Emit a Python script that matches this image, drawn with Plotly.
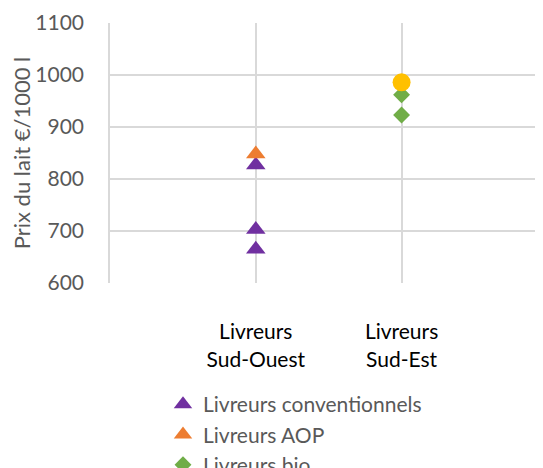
import plotly.graph_objects as go

categories = ["Livreurs<br>Sud-Ouest", "Livreurs<br>Sud-Est"]
cat_pos = [1, 2]

conv_x = [1, 1, 1]
conv_y = [827, 703, 665]
aop_x = [1]
aop_y = [848]
bio_x = [2, 2]
bio_y = [962, 923]
moy_x = [2]
moy_y = [986]

font = "Lato, Open Sans, sans-serif"
grid = "#d9d9d9"
fs = 21

fig = go.Figure()
fig.add_trace(go.Scatter(x=conv_x, y=conv_y, mode="markers", name="Livreurs conventionnels",
                         legendgroup="a",
                         marker=dict(symbol="triangle-up", size=17, color="#7030A0")))
fig.add_trace(go.Scatter(x=aop_x, y=aop_y, mode="markers", name="Livreurs AOP",
                         legendgroup="b",
                         marker=dict(symbol="triangle-up", size=17, color="#ED7D31")))
fig.add_trace(go.Scatter(x=bio_x, y=bio_y, mode="markers", name="Livreurs bio",
                         legendgroup="c",
                         marker=dict(symbol="diamond", size=13, color="#70AD47")))
fig.add_trace(go.Scatter(x=moy_x, y=moy_y, mode="markers", name="Moyenne", showlegend=False,
                         marker=dict(symbol="circle", size=18, color="#FFC000")))

W, H = 535, 460
L, T, B = 102, 15, 185
plot_h = H - T - B
plot_w = W - L
off = 8  # page body margin

fig.update_layout(
    width=W, height=H,
    margin=dict(l=L, r=0, t=T, b=B, autoexpand=False),
    plot_bgcolor="white", paper_bgcolor="white",
    font=dict(family=font, size=fs, color="#595959"),
    showlegend=True,
    legend=dict(x=(163 - off - L) / plot_w, y=-(384 - off - T - plot_h) / plot_h,
                xanchor="left", yanchor="top", font=dict(size=fs, color="#595959"),
                bgcolor="rgba(0,0,0,0)", itemclick=False, tracegroupgap=0,
                traceorder="grouped"),
    xaxis=dict(range=[0, 2.97], tickvals=[0] + cat_pos + [3], ticktext=[""] + categories + [""],
               showgrid=True, gridcolor=grid, gridwidth=1.5, zeroline=False, showline=False,
               ticks="outside", ticklen=30, tickcolor="rgba(0,0,0,0)", tickangle=0,
               tickfont=dict(size=fs, color="#000000", family=font)),
    yaxis=dict(range=[600, 1100], tickvals=[600, 700, 800, 900, 1000, 1100],
               showgrid=True, gridcolor=grid, gridwidth=1.5, zeroline=False,
               showline=True, linecolor=grid, linewidth=1.5,
               ticks="outside", ticklen=20, tickcolor="rgba(0,0,0,0)",
               title=dict(text="Prix du lait €/1000 l", standoff=6, font=dict(size=22, color="#595959"))),
)

fig.write_html("out.html")
